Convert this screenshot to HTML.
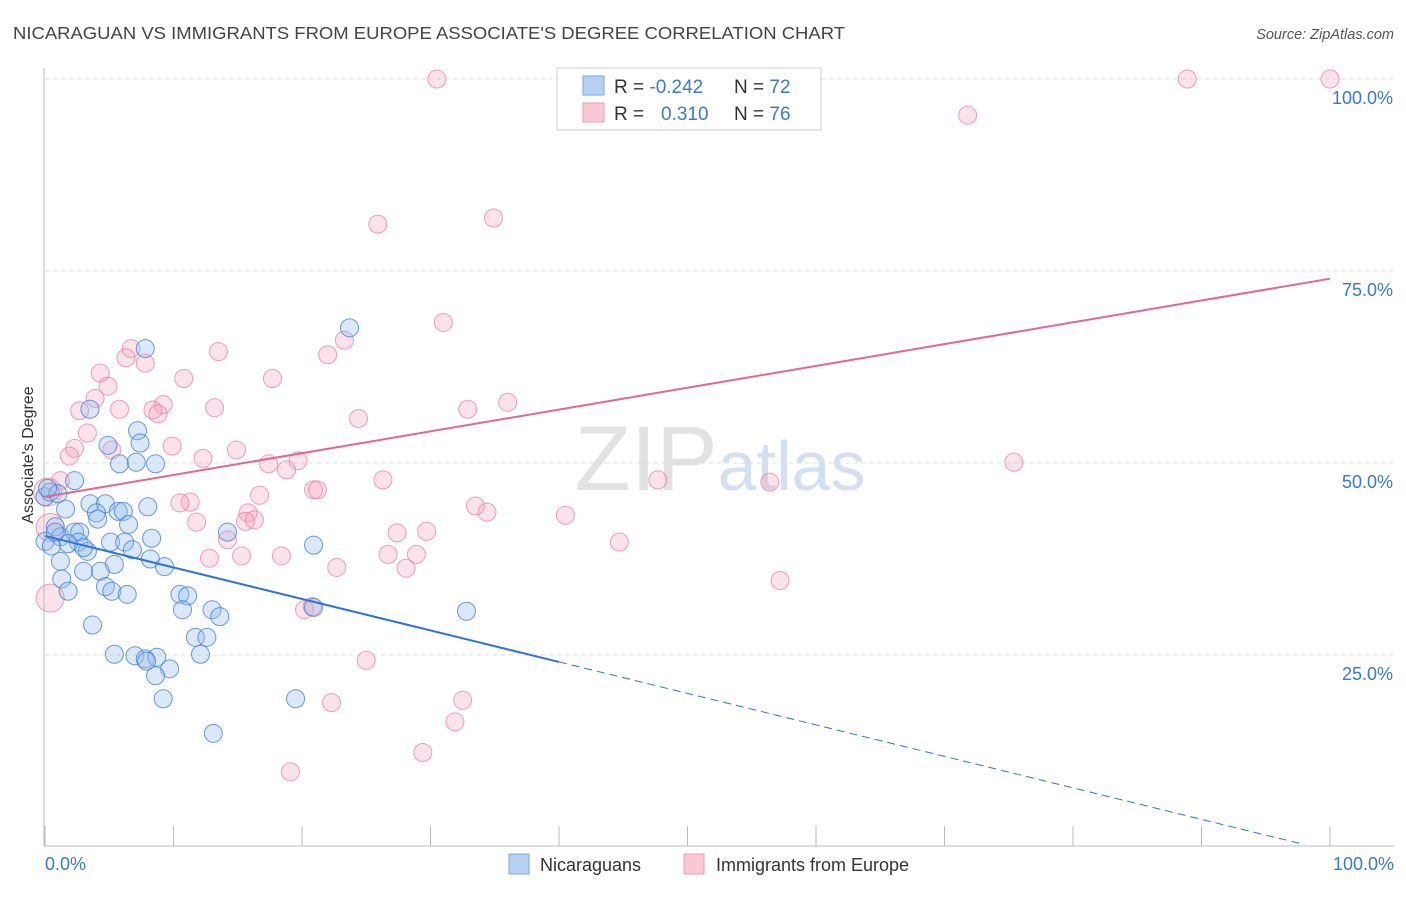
<!DOCTYPE html>
<html><head><meta charset="utf-8"><style>
body{margin:0;background:#fff;font-family:"Liberation Sans",sans-serif;}
svg text{font-family:"Liberation Sans",sans-serif;}
</style></head><body>
<svg id="chart" width="1406" height="892" viewBox="0 0 1406 892" xmlns="http://www.w3.org/2000/svg">
<text x="13" y="39" font-size="17.5" fill="#444" textLength="832" lengthAdjust="spacingAndGlyphs">NICARAGUAN VS IMMIGRANTS FROM EUROPE ASSOCIATE'S DEGREE CORRELATION CHART</text>
<text x="1394" y="39" font-size="14.5" fill="#555" font-style="italic" text-anchor="end">Source: ZipAtlas.com</text>
<text x="720" y="490" font-size="92" fill="#e2e2e2" text-anchor="middle" font-family="Liberation Serif">ZIP<tspan fill="#d3e0f3" font-family="Liberation Sans" font-size="70">atlas</tspan></text>
<g id="grid"></g><g id="axes"></g><g id="marks"></g>
<text transform="translate(33,455) rotate(-90)" font-size="16" fill="#333" text-anchor="middle">Associate's Degree</text>
<g>
<rect x="557" y="68" width="264" height="62" fill="#fff" stroke="#ccc"/>
<rect x="583" y="76" width="21" height="19" fill="#b8d1f3" stroke="#7aa6e6"/>
<rect x="583" y="103" width="21" height="19" fill="#f9c8d5" stroke="#ee9bb2"/>
<text x="614" y="93" font-size="19" fill="#333">R = <tspan fill="#3b78d1">-0.242</tspan><tspan x="734">N = </tspan><tspan fill="#3b78d1">72</tspan></text>
<text x="614" y="120" font-size="19" fill="#333">R = <tspan x="661" fill="#3b78d1">0.310</tspan><tspan x="734">N = </tspan><tspan fill="#3b78d1">76</tspan></text>
</g>
<g>
<rect x="509" y="854" width="20" height="20" fill="#b8d1f3" stroke="#7aa6e6"/>
<text x="540" y="871" font-size="18" fill="#333">Nicaraguans</text>
<rect x="684" y="854" width="20" height="20" fill="#f9c8d5" stroke="#ee9bb2"/>
<text x="716" y="871" font-size="18" fill="#333">Immigrants from Europe</text>
</g>
</svg>
<script>
const yTicks=[25,50,75,100];
const yTickLabels=["25.0%","50.0%","75.0%","100.0%"];
const xTickLabels=["0.0%","100.0%"];
const blueX=[0,0.4,1,2.3,3.5,7.8,23.7,4.9,7.2,7.4,5.8,7.1,8.6,3.5,4.7,4.0,4.1,5.7,6.1,6.5,8.0,1.6,0.8,1.2,2.3,2.7,2.6,1.8,3.3,5.1,6.2,6.8,8.3,8.2,9.3,5.4,4.3,3.0,1.2,1.3,1.8,4.7,5.2,6.4,10.5,11.1,10.7,13.0,13.6,11.7,12.6,12.1,3.7,5.4,7.0,7.8,8.7,7.9,9.7,8.6,9.2,13.1,19.5,20.9,20.9,32.8,14.2,0,0.5,0.8,0.2,3.0];
const blueY=[45.6,46.2,46.0,47.7,57.0,64.9,67.6,52.3,54.2,52.6,49.9,50.1,49.9,44.7,44.7,43.5,42.7,43.7,43.7,42.0,44.3,44.0,41.7,40.4,41.0,41.0,39.7,39.5,38.5,39.7,39.7,38.7,40.2,37.5,36.5,36.8,35.9,35.9,37.2,34.9,33.3,33.9,33.3,32.9,32.9,32.7,30.9,30.9,30.0,27.3,27.3,25.1,28.9,25.1,24.9,24.5,24.7,24.2,23.2,22.3,19.3,14.8,19.3,39.3,31.2,30.7,41.0,39.8,39.2,41.0,46.7,39.0];
const pinkX=[30.5,88.9,100,71.8,34.9,25.9,31.0,23.3,22.0,13.5,6.7,6.3,7.8,4.3,4.9,10.8,17.7,3.9,2.7,5.8,9.2,8.4,8.8,13.2,24.4,32.9,36.0,3.3,2.3,1.9,1.2,9.9,5.2,12.3,14.9,17.4,19.7,18.8,20.9,21.2,26.3,47.7,75.4,56.4,16.7,11.3,10.5,15.8,15.6,16.3,11.8,14.2,33.5,34.4,40.5,27.4,29.7,44.7,26.7,28.9,12.8,15.3,18.4,22.7,28.1,57.2,20.2,20.8,25.0,32.5,22.3,31.9,29.4,19.1,0.4,0.4,0.2];
const pinkY=[100,100,100,95.3,81.9,81.1,68.3,66.0,64.1,64.5,64.9,63.7,63.0,61.7,60.0,61.0,61.0,58.4,56.8,57.0,57.6,56.9,56.4,57.2,55.8,57.0,57.9,53.9,51.9,50.9,47.7,52.2,51.7,50.6,51.7,49.9,50.3,49.1,46.5,46.5,47.8,47.8,50.1,47.5,45.8,44.9,44.8,43.5,42.4,42.6,42.3,40.0,44.4,43.6,43.2,40.9,41.1,39.7,38.1,38.1,37.6,37.9,37.9,36.4,36.3,34.7,30.9,31.3,24.3,19.1,18.8,16.3,12.3,9.8,32.4,41.6,46.2];
const pinkBig=[0,0,0,0,0,0,0,0,0,0,0,0,0,0,0,0,0,0,0,0,0,0,0,0,0,0,0,0,0,0,0,0,0,0,0,0,0,0,0,0,0,0,0,0,0,0,0,0,0,0,0,0,0,0,0,0,0,0,0,0,0,0,0,0,0,0,0,0,0,0,0,0,0,0,1,1,1];
const blueLine=[40.5,-0.41];const blueSolidEnd=40;
const pinkLine=[45.6,0.284];
const NS="http://www.w3.org/2000/svg";
const X0=45,X1=1330,Y0=847,Y100=79;
function sx(v){return X0+(X1-X0)*v/100;}
function sy(v){return Y0-(Y0-Y100)*v/100;}
function mk(t,a,p){const e=document.createElementNS(NS,t);for(const k in a)e.setAttribute(k,a[k]);p.appendChild(e);return e;}
const grid=document.getElementById('grid'),axes=document.getElementById('axes'),marks=document.getElementById('marks');
yTicks.forEach((t,i)=>{
 const l=mk('line',{x1:45,x2:1394,y1:sy(t),y2:sy(t),stroke:'#ddd','stroke-dasharray':'4,4'},grid);
 
 
 const tx=mk('text',{x:1393,y:sy(t)+25,'font-size':18,fill:'#3b78d1','text-anchor':'end'},axes);tx.textContent=yTickLabels[i];
 
 
});
const ya=mk('line',{x1:44,x2:44,y1:68,y2:846,stroke:'#bbb'},axes);


const xa=mk('line',{x1:44,x2:1394,y1:846,y2:846,stroke:'#bbb'},axes);


for(let i=0;i<=10;i++){const t=mk('line',{x1:sx(i*10),x2:sx(i*10),y1:826,y2:846,stroke:'#bbb'},axes);
 
 }
[[0,'start',45],[100,'end',1394]].forEach((d,i)=>{const t=mk('text',{x:d[2],y:870,'font-size':18,fill:'#3b78d1','text-anchor':d[1]},axes);t.textContent=xTickLabels[i];
 
 });
pinkX.forEach((x,i)=>{const c=mk('circle',{cx:sx(x),cy:sy(pinkY[i]),r:pinkBig[i]?14:9,fill:'rgba(244,160,185,0.3)',stroke:'rgba(232,120,155,0.7)','stroke-width':1},marks);
 
 });
blueX.forEach((x,i)=>{const c=mk('circle',{cx:sx(x),cy:sy(blueY[i]),r:9,fill:'rgba(150,190,240,0.35)',stroke:'rgba(60,120,210,0.75)','stroke-width':1},marks);
 
 });
const bl=mk('line',{x1:sx(0),y1:sy(blueLine[0]),x2:sx(blueSolidEnd),y2:sy(blueLine[0]+blueLine[1]*blueSolidEnd),stroke:'#2f74d8','stroke-width':2},marks);


const bd=mk('line',{x1:sx(blueSolidEnd),y1:sy(blueLine[0]+blueLine[1]*blueSolidEnd),x2:sx(98),y2:sy(blueLine[0]+blueLine[1]*98),stroke:'#2f74d8','stroke-width':1,'stroke-dasharray':'8,5'},marks);


const pl=mk('line',{x1:sx(0),y1:sy(pinkLine[0]),x2:sx(100),y2:sy(pinkLine[0]+pinkLine[1]*100),stroke:'#e5668f','stroke-width':2},marks);


</script>
</body></html>
